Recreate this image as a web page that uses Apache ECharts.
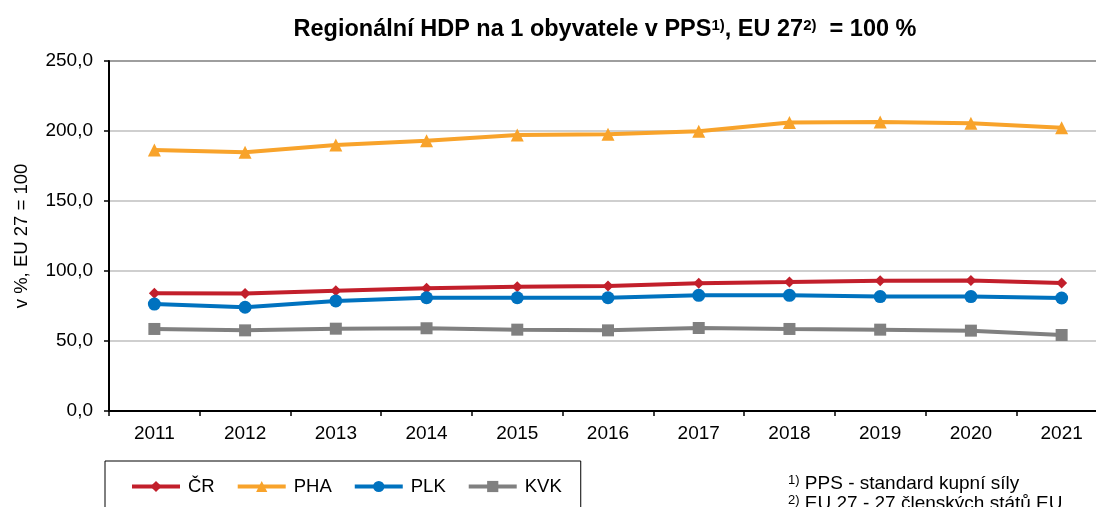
<!DOCTYPE html>
<html>
<head>
<meta charset="utf-8">
<script src="https://cdn.jsdelivr.net/npm/echarts@6/dist/echarts.min.js"></script>
<style>
  html, body { margin: 0; padding: 0; background: #fff; overflow: hidden; }
  /* plot area runs past the right edge of the window, like the source */
  #main { width: 1107px; height: 507px; }
</style>
</head>
<body>
<div id="main"></div>
<script>
var years = ['2011', '2012', '2013', '2014', '2015', '2016', '2017', '2018', '2019', '2020', '2021'];
var cr  = [84.1, 84.0, 85.9, 87.6, 88.8, 89.3, 91.2, 92.1, 93.1, 93.3, 91.4];
var pha = [186.4, 184.8, 190.0, 193.1, 197.1, 197.6, 199.8, 206.0, 206.4, 205.5, 202.4];
var plk = [76.4, 74.1, 78.6, 80.9, 80.9, 80.9, 82.6, 82.6, 81.7, 81.7, 80.7];
var kvk = [58.6, 57.6, 58.8, 59.1, 58.1, 57.6, 59.3, 58.6, 58.1, 57.4, 54.3];

var font = 'Liberation Sans, Arial, sans-serif';

function line(name, data, color, symbol, size) {
	return {
		name: name,
		type: 'line',
		data: data,
		symbol: symbol,
		symbolSize: size,
		lineStyle: { color: color, width: 4 },
		itemStyle: { color: color },
		z: 3
	};
}

var myChart = echarts.init(document.getElementById('main'));
var option = {
	animation: false,
	backgroundColor: '#fff',
	textStyle: { fontFamily: font },
	title: [{
		text: 'Regionální HDP na 1 obyvatele v PPS{sup|1)}, EU 27{sup|2)}  = 100 %',
		left: 600,
		textAlign: 'center',
		top: 13,
		textStyle: {
			fontSize: 23.5, fontWeight: 'bold', color: '#000', fontFamily: font,
			rich: { sup: { fontSize: 15, fontWeight: 'bold', verticalAlign: 'top', fontFamily: font } }
		}
	}, {
		text: '{s|1)} PPS - standard kupní síly\n{s|2)} EU 27 - 27 členských států EU',
		left: 783,
		top: 469,
		textStyle: {
			fontSize: 19, fontWeight: 'normal', color: '#000', lineHeight: 20, fontFamily: font,
			rich: { s: { fontSize: 13, verticalAlign: 'top', lineHeight: 20, fontFamily: font } }
		}
	}],
	legend: {
		left: 105,
		top: 461,
		padding: [16, 19, 20, 25],
		itemWidth: 48,
		itemHeight: 14,
		itemGap: 21,
		borderColor: '#000',
		borderWidth: 1,
		lineStyle: { width: 4 },
		textStyle: { fontSize: 18.5, color: '#000', fontFamily: font, padding: [0, 0, 0, 3] },
		data: ['ČR', 'PHA', 'PLK', 'KVK']
	},
	grid: {
		left: 109,
		top: 61,
		right: 0,
		height: 350,
		show: true,
		borderColor: '#000',
		borderWidth: 1.5,
		backgroundColor: 'transparent'
	},
	xAxis: {
		type: 'category',
		data: years,
		boundaryGap: true,
		axisLine: { lineStyle: { color: '#000', width: 2 } },
		axisTick: { show: true, length: 5, lineStyle: { color: '#000', width: 1.5 } },
		axisLabel: { fontSize: 19, color: '#000', margin: 13, fontFamily: font }
	},
	yAxis: {
		type: 'value',
		min: 0,
		max: 250,
		interval: 50,
		name: 'v %, EU 27 = 100',
		nameLocation: 'middle',
		nameGap: 78,
		nameTextStyle: { fontSize: 18.5, color: '#000', fontFamily: font },
		axisLine: { show: true, lineStyle: { color: '#000', width: 2 } },
		axisTick: { show: true, length: 5, lineStyle: { color: '#000', width: 1.5 } },
		axisLabel: {
			fontSize: 19, color: '#000', margin: 16, fontFamily: font,
			formatter: function (v) { return v.toFixed(1).replace('.', ','); }
		},
		splitLine: { lineStyle: { color: '#bfbfbf', width: 1.5 } }
	},
	series: [
		line('ČR', cr, '#C21F2B', 'diamond', 11),
		line('PHA', pha, '#F8A32B', 'triangle', 13),
		line('PLK', plk, '#0072BF', 'circle', 13),
		line('KVK', kvk, '#808080', 'rect', 12)
	]
};
myChart.setOption(option);
</script>
</body>
</html>
